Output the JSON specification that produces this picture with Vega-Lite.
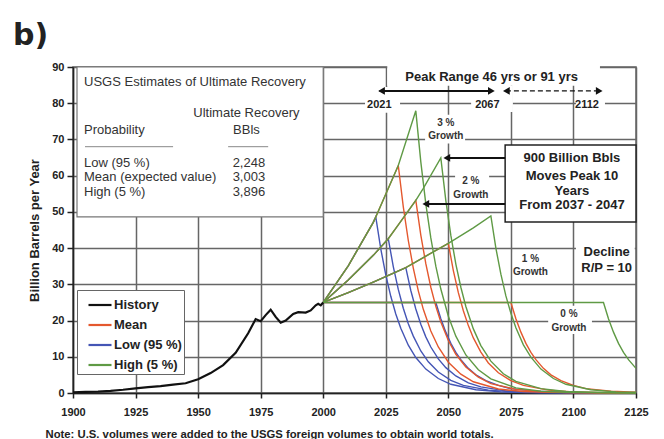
{
  "$schema": "https://vega.github.io/schema/vega-lite/v6.json",
  "width": 563,
  "height": 326,
  "autosize": "none",
  "padding": {"left": 73, "top": 67, "right": 28, "bottom": 46},
  "background": "white",
  "title": {"text": "b)", "anchor": "start", "frame": "group", "dx": -60, "dy": 39, "offset": 25, "fontSize": 30, "font": "DejaVu Sans", "fontWeight": "bold", "color": "#222222", "baseline": "alphabetic"},
  "config": {
    "view": {"stroke": "#666666", "strokeWidth": 1.5},
    "axis": {"gridColor": "#666666", "gridWidth": 1.5, "gridOpacity": 1, "labelFont": "Liberation Sans", "labelFontSize": 11, "labelFontWeight": "bold", "labelColor": "#222222", "titleFont": "Liberation Sans", "titleFontWeight": "bold", "titleColor": "#222222", "domainColor": "#222222", "tickColor": "#222222", "domainWidth": 1.5, "tickWidth": 1.5}
  },
  "datasets": {
    "lines": [
      {"grp": "History", "s": "Hist", "year": 1900, "v": 0.2},
      {"grp": "History", "s": "Hist", "year": 1905, "v": 0.3},
      {"grp": "History", "s": "Hist", "year": 1910, "v": 0.4},
      {"grp": "History", "s": "Hist", "year": 1915, "v": 0.6},
      {"grp": "History", "s": "Hist", "year": 1920, "v": 0.9},
      {"grp": "History", "s": "Hist", "year": 1925, "v": 1.3},
      {"grp": "History", "s": "Hist", "year": 1930, "v": 1.6},
      {"grp": "History", "s": "Hist", "year": 1935, "v": 1.9},
      {"grp": "History", "s": "Hist", "year": 1940, "v": 2.3},
      {"grp": "History", "s": "Hist", "year": 1945, "v": 2.7},
      {"grp": "History", "s": "Hist", "year": 1950, "v": 3.8},
      {"grp": "History", "s": "Hist", "year": 1955, "v": 5.5},
      {"grp": "History", "s": "Hist", "year": 1960, "v": 7.7},
      {"grp": "History", "s": "Hist", "year": 1965, "v": 11.1},
      {"grp": "History", "s": "Hist", "year": 1970, "v": 16.5},
      {"grp": "History", "s": "Hist", "year": 1973, "v": 20.4},
      {"grp": "History", "s": "Hist", "year": 1975, "v": 19.8},
      {"grp": "History", "s": "Hist", "year": 1977, "v": 21.5},
      {"grp": "History", "s": "Hist", "year": 1979, "v": 23.0},
      {"grp": "History", "s": "Hist", "year": 1981, "v": 21.0},
      {"grp": "History", "s": "Hist", "year": 1983, "v": 19.4},
      {"grp": "History", "s": "Hist", "year": 1985, "v": 20.0},
      {"grp": "History", "s": "Hist", "year": 1988, "v": 21.8},
      {"grp": "History", "s": "Hist", "year": 1990, "v": 22.3},
      {"grp": "History", "s": "Hist", "year": 1993, "v": 22.2},
      {"grp": "History", "s": "Hist", "year": 1995, "v": 22.8},
      {"grp": "History", "s": "Hist", "year": 1997, "v": 24.2},
      {"grp": "History", "s": "Hist", "year": 1998, "v": 24.6},
      {"grp": "History", "s": "Hist", "year": 1999, "v": 24.2},
      {"grp": "History", "s": "Hist", "year": 2000, "v": 25.0},

      {"grp": "Low (95 %)", "s": "L3", "year": 2000, "v": 25},
      {"grp": "Low (95 %)", "s": "L3", "year": 2010, "v": 35.1},
      {"grp": "Low (95 %)", "s": "L3", "year": 2020, "v": 47.1},
      {"grp": "Low (95 %)", "s": "L3", "year": 2021, "v": 48.6},
      {"grp": "Low (95 %)", "s": "L3", "year": 2023, "v": 39.8},
      {"grp": "Low (95 %)", "s": "L3", "year": 2025, "v": 32.6},
      {"grp": "Low (95 %)", "s": "L3", "year": 2027, "v": 26.7},
      {"grp": "Low (95 %)", "s": "L3", "year": 2029, "v": 21.8},
      {"grp": "Low (95 %)", "s": "L3", "year": 2031, "v": 17.9},
      {"grp": "Low (95 %)", "s": "L3", "year": 2034, "v": 13.2},
      {"grp": "Low (95 %)", "s": "L3", "year": 2037, "v": 9.8},
      {"grp": "Low (95 %)", "s": "L3", "year": 2041, "v": 6.6},
      {"grp": "Low (95 %)", "s": "L3", "year": 2046, "v": 4.0},
      {"grp": "Low (95 %)", "s": "L3", "year": 2051, "v": 2.4},
      {"grp": "Low (95 %)", "s": "L3", "year": 2061, "v": 0.9},
      {"grp": "Low (95 %)", "s": "L3", "year": 2071, "v": 0.3},
      {"grp": "Low (95 %)", "s": "L3", "year": 2081, "v": 0.1},
      {"grp": "Low (95 %)", "s": "L3", "year": 2125, "v": 0.0},

      {"grp": "Low (95 %)", "s": "L2", "year": 2000, "v": 25},
      {"grp": "Low (95 %)", "s": "L2", "year": 2010, "v": 31.2},
      {"grp": "Low (95 %)", "s": "L2", "year": 2020, "v": 38.0},
      {"grp": "Low (95 %)", "s": "L2", "year": 2026, "v": 42.6},
      {"grp": "Low (95 %)", "s": "L2", "year": 2028, "v": 34.9},
      {"grp": "Low (95 %)", "s": "L2", "year": 2030, "v": 28.6},
      {"grp": "Low (95 %)", "s": "L2", "year": 2032, "v": 23.4},
      {"grp": "Low (95 %)", "s": "L2", "year": 2034, "v": 19.1},
      {"grp": "Low (95 %)", "s": "L2", "year": 2036, "v": 15.7},
      {"grp": "Low (95 %)", "s": "L2", "year": 2039, "v": 11.6},
      {"grp": "Low (95 %)", "s": "L2", "year": 2042, "v": 8.6},
      {"grp": "Low (95 %)", "s": "L2", "year": 2046, "v": 5.8},
      {"grp": "Low (95 %)", "s": "L2", "year": 2051, "v": 3.5},
      {"grp": "Low (95 %)", "s": "L2", "year": 2056, "v": 2.1},
      {"grp": "Low (95 %)", "s": "L2", "year": 2066, "v": 0.8},
      {"grp": "Low (95 %)", "s": "L2", "year": 2076, "v": 0.3},
      {"grp": "Low (95 %)", "s": "L2", "year": 2086, "v": 0.1},
      {"grp": "Low (95 %)", "s": "L2", "year": 2125, "v": 0.0},

      {"grp": "Low (95 %)", "s": "L1", "year": 2000, "v": 25},
      {"grp": "Low (95 %)", "s": "L1", "year": 2010, "v": 27.7},
      {"grp": "Low (95 %)", "s": "L1", "year": 2020, "v": 30.6},
      {"grp": "Low (95 %)", "s": "L1", "year": 2033, "v": 34.6},
      {"grp": "Low (95 %)", "s": "L1", "year": 2035, "v": 28.3},
      {"grp": "Low (95 %)", "s": "L1", "year": 2037, "v": 23.2},
      {"grp": "Low (95 %)", "s": "L1", "year": 2039, "v": 19.0},
      {"grp": "Low (95 %)", "s": "L1", "year": 2041, "v": 15.5},
      {"grp": "Low (95 %)", "s": "L1", "year": 2043, "v": 12.7},
      {"grp": "Low (95 %)", "s": "L1", "year": 2046, "v": 9.4},
      {"grp": "Low (95 %)", "s": "L1", "year": 2049, "v": 7.0},
      {"grp": "Low (95 %)", "s": "L1", "year": 2053, "v": 4.7},
      {"grp": "Low (95 %)", "s": "L1", "year": 2058, "v": 2.8},
      {"grp": "Low (95 %)", "s": "L1", "year": 2063, "v": 1.7},
      {"grp": "Low (95 %)", "s": "L1", "year": 2073, "v": 0.6},
      {"grp": "Low (95 %)", "s": "L1", "year": 2083, "v": 0.2},
      {"grp": "Low (95 %)", "s": "L1", "year": 2093, "v": 0.1},
      {"grp": "Low (95 %)", "s": "L1", "year": 2125, "v": 0.0},

      {"grp": "Low (95 %)", "s": "L0", "year": 2000, "v": 25},
      {"grp": "Low (95 %)", "s": "L0", "year": 2045, "v": 25},
      {"grp": "Low (95 %)", "s": "L0", "year": 2047, "v": 20.5},
      {"grp": "Low (95 %)", "s": "L0", "year": 2049, "v": 16.8},
      {"grp": "Low (95 %)", "s": "L0", "year": 2051, "v": 13.7},
      {"grp": "Low (95 %)", "s": "L0", "year": 2053, "v": 11.2},
      {"grp": "Low (95 %)", "s": "L0", "year": 2055, "v": 9.2},
      {"grp": "Low (95 %)", "s": "L0", "year": 2058, "v": 6.8},
      {"grp": "Low (95 %)", "s": "L0", "year": 2061, "v": 5.0},
      {"grp": "Low (95 %)", "s": "L0", "year": 2065, "v": 3.4},
      {"grp": "Low (95 %)", "s": "L0", "year": 2070, "v": 2.1},
      {"grp": "Low (95 %)", "s": "L0", "year": 2075, "v": 1.2},
      {"grp": "Low (95 %)", "s": "L0", "year": 2085, "v": 0.5},
      {"grp": "Low (95 %)", "s": "L0", "year": 2095, "v": 0.2},
      {"grp": "Low (95 %)", "s": "L0", "year": 2105, "v": 0.1},
      {"grp": "Low (95 %)", "s": "L0", "year": 2125, "v": 0.0},

      {"grp": "Mean", "s": "M3", "year": 2000, "v": 25},
      {"grp": "Mean", "s": "M3", "year": 2010, "v": 35.1},
      {"grp": "Mean", "s": "M3", "year": 2020, "v": 47.1},
      {"grp": "Mean", "s": "M3", "year": 2021, "v": 48.6},
      {"grp": "Mean", "s": "M3", "year": 2030, "v": 62.8},
      {"grp": "Mean", "s": "M3", "year": 2032, "v": 51.4},
      {"grp": "Mean", "s": "M3", "year": 2034, "v": 42.1},
      {"grp": "Mean", "s": "M3", "year": 2036, "v": 34.5},
      {"grp": "Mean", "s": "M3", "year": 2038, "v": 28.2},
      {"grp": "Mean", "s": "M3", "year": 2040, "v": 23.1},
      {"grp": "Mean", "s": "M3", "year": 2043, "v": 17.1},
      {"grp": "Mean", "s": "M3", "year": 2046, "v": 12.7},
      {"grp": "Mean", "s": "M3", "year": 2050, "v": 8.5},
      {"grp": "Mean", "s": "M3", "year": 2055, "v": 5.2},
      {"grp": "Mean", "s": "M3", "year": 2060, "v": 3.1},
      {"grp": "Mean", "s": "M3", "year": 2070, "v": 1.1},
      {"grp": "Mean", "s": "M3", "year": 2080, "v": 0.4},
      {"grp": "Mean", "s": "M3", "year": 2090, "v": 0.2},
      {"grp": "Mean", "s": "M3", "year": 2125, "v": 0.0},

      {"grp": "Mean", "s": "M2", "year": 2000, "v": 25},
      {"grp": "Mean", "s": "M2", "year": 2010, "v": 31.2},
      {"grp": "Mean", "s": "M2", "year": 2020, "v": 38.0},
      {"grp": "Mean", "s": "M2", "year": 2026, "v": 42.6},
      {"grp": "Mean", "s": "M2", "year": 2030, "v": 46.4},
      {"grp": "Mean", "s": "M2", "year": 2037, "v": 53.2},
      {"grp": "Mean", "s": "M2", "year": 2039, "v": 43.6},
      {"grp": "Mean", "s": "M2", "year": 2041, "v": 35.7},
      {"grp": "Mean", "s": "M2", "year": 2043, "v": 29.2},
      {"grp": "Mean", "s": "M2", "year": 2045, "v": 23.9},
      {"grp": "Mean", "s": "M2", "year": 2047, "v": 19.6},
      {"grp": "Mean", "s": "M2", "year": 2050, "v": 14.5},
      {"grp": "Mean", "s": "M2", "year": 2053, "v": 10.7},
      {"grp": "Mean", "s": "M2", "year": 2057, "v": 7.2},
      {"grp": "Mean", "s": "M2", "year": 2062, "v": 4.4},
      {"grp": "Mean", "s": "M2", "year": 2067, "v": 2.6},
      {"grp": "Mean", "s": "M2", "year": 2077, "v": 1.0},
      {"grp": "Mean", "s": "M2", "year": 2087, "v": 0.4},
      {"grp": "Mean", "s": "M2", "year": 2097, "v": 0.1},
      {"grp": "Mean", "s": "M2", "year": 2125, "v": 0.0},

      {"grp": "Mean", "s": "M1", "year": 2000, "v": 25},
      {"grp": "Mean", "s": "M1", "year": 2010, "v": 27.7},
      {"grp": "Mean", "s": "M1", "year": 2020, "v": 30.6},
      {"grp": "Mean", "s": "M1", "year": 2033, "v": 34.6},
      {"grp": "Mean", "s": "M1", "year": 2040, "v": 37.4},
      {"grp": "Mean", "s": "M1", "year": 2050, "v": 41.3},
      {"grp": "Mean", "s": "M1", "year": 2052, "v": 33.8},
      {"grp": "Mean", "s": "M1", "year": 2054, "v": 27.7},
      {"grp": "Mean", "s": "M1", "year": 2056, "v": 22.7},
      {"grp": "Mean", "s": "M1", "year": 2058, "v": 18.6},
      {"grp": "Mean", "s": "M1", "year": 2060, "v": 15.2},
      {"grp": "Mean", "s": "M1", "year": 2063, "v": 11.3},
      {"grp": "Mean", "s": "M1", "year": 2066, "v": 8.3},
      {"grp": "Mean", "s": "M1", "year": 2070, "v": 5.6},
      {"grp": "Mean", "s": "M1", "year": 2075, "v": 3.4},
      {"grp": "Mean", "s": "M1", "year": 2080, "v": 2.1},
      {"grp": "Mean", "s": "M1", "year": 2090, "v": 0.8},
      {"grp": "Mean", "s": "M1", "year": 2100, "v": 0.3},
      {"grp": "Mean", "s": "M1", "year": 2110, "v": 0.1},
      {"grp": "Mean", "s": "M1", "year": 2125, "v": 0.0},

      {"grp": "Mean", "s": "M0", "year": 2000, "v": 25},
      {"grp": "Mean", "s": "M0", "year": 2075, "v": 25},
      {"grp": "Mean", "s": "M0", "year": 2077, "v": 20.5},
      {"grp": "Mean", "s": "M0", "year": 2079, "v": 16.8},
      {"grp": "Mean", "s": "M0", "year": 2081, "v": 13.7},
      {"grp": "Mean", "s": "M0", "year": 2083, "v": 11.2},
      {"grp": "Mean", "s": "M0", "year": 2085, "v": 9.2},
      {"grp": "Mean", "s": "M0", "year": 2088, "v": 6.8},
      {"grp": "Mean", "s": "M0", "year": 2091, "v": 5.0},
      {"grp": "Mean", "s": "M0", "year": 2095, "v": 3.4},
      {"grp": "Mean", "s": "M0", "year": 2100, "v": 2.1},
      {"grp": "Mean", "s": "M0", "year": 2105, "v": 1.2},
      {"grp": "Mean", "s": "M0", "year": 2115, "v": 0.5},
      {"grp": "Mean", "s": "M0", "year": 2125, "v": 0.2},

      {"grp": "High (5 %)", "s": "H3", "year": 2000, "v": 25},
      {"grp": "High (5 %)", "s": "H3", "year": 2010, "v": 35.1},
      {"grp": "High (5 %)", "s": "H3", "year": 2020, "v": 47.1},
      {"grp": "High (5 %)", "s": "H3", "year": 2021, "v": 48.6},
      {"grp": "High (5 %)", "s": "H3", "year": 2030, "v": 62.8},
      {"grp": "High (5 %)", "s": "H3", "year": 2037, "v": 77.9},
      {"grp": "High (5 %)", "s": "H3", "year": 2039, "v": 63.8},
      {"grp": "High (5 %)", "s": "H3", "year": 2041, "v": 52.2},
      {"grp": "High (5 %)", "s": "H3", "year": 2043, "v": 42.8},
      {"grp": "High (5 %)", "s": "H3", "year": 2045, "v": 35.0},
      {"grp": "High (5 %)", "s": "H3", "year": 2047, "v": 28.7},
      {"grp": "High (5 %)", "s": "H3", "year": 2050, "v": 21.2},
      {"grp": "High (5 %)", "s": "H3", "year": 2053, "v": 15.7},
      {"grp": "High (5 %)", "s": "H3", "year": 2057, "v": 10.5},
      {"grp": "High (5 %)", "s": "H3", "year": 2062, "v": 6.4},
      {"grp": "High (5 %)", "s": "H3", "year": 2067, "v": 3.9},
      {"grp": "High (5 %)", "s": "H3", "year": 2077, "v": 1.4},
      {"grp": "High (5 %)", "s": "H3", "year": 2087, "v": 0.5},
      {"grp": "High (5 %)", "s": "H3", "year": 2097, "v": 0.2},
      {"grp": "High (5 %)", "s": "H3", "year": 2125, "v": 0.0},

      {"grp": "High (5 %)", "s": "H2", "year": 2000, "v": 25},
      {"grp": "High (5 %)", "s": "H2", "year": 2010, "v": 31.2},
      {"grp": "High (5 %)", "s": "H2", "year": 2020, "v": 38.0},
      {"grp": "High (5 %)", "s": "H2", "year": 2026, "v": 42.6},
      {"grp": "High (5 %)", "s": "H2", "year": 2030, "v": 46.4},
      {"grp": "High (5 %)", "s": "H2", "year": 2037, "v": 53.2},
      {"grp": "High (5 %)", "s": "H2", "year": 2040, "v": 56.5},
      {"grp": "High (5 %)", "s": "H2", "year": 2047, "v": 64.9},
      {"grp": "High (5 %)", "s": "H2", "year": 2049, "v": 53.1},
      {"grp": "High (5 %)", "s": "H2", "year": 2051, "v": 43.5},
      {"grp": "High (5 %)", "s": "H2", "year": 2053, "v": 35.6},
      {"grp": "High (5 %)", "s": "H2", "year": 2055, "v": 29.2},
      {"grp": "High (5 %)", "s": "H2", "year": 2057, "v": 23.9},
      {"grp": "High (5 %)", "s": "H2", "year": 2060, "v": 17.7},
      {"grp": "High (5 %)", "s": "H2", "year": 2063, "v": 13.1},
      {"grp": "High (5 %)", "s": "H2", "year": 2067, "v": 8.8},
      {"grp": "High (5 %)", "s": "H2", "year": 2072, "v": 5.3},
      {"grp": "High (5 %)", "s": "H2", "year": 2077, "v": 3.2},
      {"grp": "High (5 %)", "s": "H2", "year": 2087, "v": 1.2},
      {"grp": "High (5 %)", "s": "H2", "year": 2097, "v": 0.4},
      {"grp": "High (5 %)", "s": "H2", "year": 2107, "v": 0.2},
      {"grp": "High (5 %)", "s": "H2", "year": 2125, "v": 0.0},

      {"grp": "High (5 %)", "s": "H1", "year": 2000, "v": 25},
      {"grp": "High (5 %)", "s": "H1", "year": 2010, "v": 27.7},
      {"grp": "High (5 %)", "s": "H1", "year": 2020, "v": 30.6},
      {"grp": "High (5 %)", "s": "H1", "year": 2033, "v": 34.6},
      {"grp": "High (5 %)", "s": "H1", "year": 2040, "v": 37.4},
      {"grp": "High (5 %)", "s": "H1", "year": 2050, "v": 41.3},
      {"grp": "High (5 %)", "s": "H1", "year": 2060, "v": 45.6},
      {"grp": "High (5 %)", "s": "H1", "year": 2067, "v": 48.9},
      {"grp": "High (5 %)", "s": "H1", "year": 2069, "v": 40.0},
      {"grp": "High (5 %)", "s": "H1", "year": 2071, "v": 32.8},
      {"grp": "High (5 %)", "s": "H1", "year": 2073, "v": 26.8},
      {"grp": "High (5 %)", "s": "H1", "year": 2075, "v": 22.0},
      {"grp": "High (5 %)", "s": "H1", "year": 2077, "v": 18.0},
      {"grp": "High (5 %)", "s": "H1", "year": 2080, "v": 13.3},
      {"grp": "High (5 %)", "s": "H1", "year": 2083, "v": 9.9},
      {"grp": "High (5 %)", "s": "H1", "year": 2087, "v": 6.6},
      {"grp": "High (5 %)", "s": "H1", "year": 2092, "v": 4.0},
      {"grp": "High (5 %)", "s": "H1", "year": 2097, "v": 2.4},
      {"grp": "High (5 %)", "s": "H1", "year": 2107, "v": 0.9},
      {"grp": "High (5 %)", "s": "H1", "year": 2117, "v": 0.3},
      {"grp": "High (5 %)", "s": "H1", "year": 2125, "v": 0.2},

      {"grp": "High (5 %)", "s": "H0", "year": 2000, "v": 25},
      {"grp": "High (5 %)", "s": "H0", "year": 2112, "v": 25},
      {"grp": "High (5 %)", "s": "H0", "year": 2114, "v": 20.5},
      {"grp": "High (5 %)", "s": "H0", "year": 2116, "v": 16.8},
      {"grp": "High (5 %)", "s": "H0", "year": 2118, "v": 13.7},
      {"grp": "High (5 %)", "s": "H0", "year": 2120, "v": 11.2},
      {"grp": "High (5 %)", "s": "H0", "year": 2122, "v": 9.2},
      {"grp": "High (5 %)", "s": "H0", "year": 2125, "v": 6.8}
    ],
    "boxes": [
      {"name": "info", "year": 1901.6, "year2": 2000, "v": 90, "v2": 48.6},
      {"name": "shift", "year": 2072.7, "year2": 2125, "v": 68.5, "v2": 47.2}
    ],
    "bgs": [
      {"year": 2025.6, "year2": 2110.6, "v": 90.6, "v2": 84.8},
      {"year": 2016.7, "year2": 2030.7, "v": 84.5, "v2": 77.4},
      {"year": 2059.1, "year2": 2075.8, "v": 84.8, "v2": 77.6},
      {"year": 2101, "year2": 2112.6, "v": 81.4, "v2": 78.1},
      {"year": 2040.7, "year2": 2056.7, "v": 76.8, "v2": 68.9},
      {"year": 2052.7, "year2": 2066.3, "v": 61.4, "v2": 52.9},
      {"year": 2075.8, "year2": 2091.8, "v": 38.8, "v2": 31.0},
      {"year": 2089.9, "year2": 2107.4, "v": 24.1, "v2": 16.3},
      {"year": 2101, "year2": 2124.5, "v": 41.3, "v2": 31.2}
    ],
    "texts": [
      {"g": "info", "t": "USGS Estimates of Ultimate Recovery", "year": 1904.4, "v": 85.9},
      {"g": "info", "t": "Probability", "year": 1904.4, "v": 72.6},
      {"g": "info", "t": "Low (95 %)", "year": 1904.4, "v": 63.5},
      {"g": "info", "t": "Mean (expected value)", "year": 1904.4, "v": 59.6},
      {"g": "info", "t": "High (5 %)", "year": 1904.4, "v": 55.5},
      {"g": "infoc", "t": "Ultimate Recovery", "year": 1969.3, "v": 77.3},
      {"g": "infoc", "t": "BBls", "year": 1969.3, "v": 72.6},
      {"g": "infoc", "t": "2,248", "year": 1970.3, "v": 63.5},
      {"g": "infoc", "t": "3,003", "year": 1970.3, "v": 59.6},
      {"g": "infoc", "t": "3,896", "year": 1970.3, "v": 55.5},
      {"g": "big", "t": "Peak Range 46 yrs or 91 yrs", "year": 2067.3, "v": 87.3},
      {"g": "yr", "t": "2021", "year": 2022.4, "v": 79.6},
      {"g": "yr", "t": "2067", "year": 2065.6, "v": 79.6},
      {"g": "yr", "t": "2112", "year": 2105.4, "v": 79.6},
      {"g": "growth", "t": "3 %", "year": 2049, "v": 74.5},
      {"g": "growth", "t": "Growth", "year": 2049, "v": 70.9},
      {"g": "growth", "t": "2 %", "year": 2059, "v": 58.6},
      {"g": "growth", "t": "Growth", "year": 2059, "v": 54.8},
      {"g": "growth", "t": "1 %", "year": 2082.8, "v": 36.9},
      {"g": "growth", "t": "Growth", "year": 2082.8, "v": 33.3},
      {"g": "growth", "t": "0 %", "year": 2098.2, "v": 21.7},
      {"g": "growth", "t": "Growth", "year": 2098.2, "v": 18.0},
      {"g": "big", "t": "900 Billion Bbls", "year": 2099.4, "v": 64.9},
      {"g": "big", "t": "Moves Peak 10", "year": 2099.4, "v": 59.9},
      {"g": "big", "t": "Years", "year": 2099.4, "v": 55.8},
      {"g": "big", "t": "From 2037 - 2047", "year": 2099.4, "v": 51.9},
      {"g": "big", "t": "Decline", "year": 2113.3, "v": 39.0},
      {"g": "big", "t": "R/P = 10", "year": 2113.3, "v": 34.6}
    ],
    "rules": [
      {"k": "under", "year": 1904.8, "year2": 1940, "v": 68.0},
      {"k": "under", "year": 1962, "year2": 1978, "v": 68.0},
      {"k": "arrow", "year": 2022.5, "year2": 2067.5, "v": 83.4},
      {"k": "arrow", "year": 2049, "year2": 2072.7, "v": 64.9},
      {"k": "arrow", "year": 2041, "year2": 2072.7, "v": 52.2},
      {"k": "dash", "year": 2073, "year2": 2110, "v": 83.4}
    ],
    "heads": [
      {"d": "left", "year": 2023.3, "v": 83.4},
      {"d": "left", "year": 2049.4, "v": 64.9},
      {"d": "left", "year": 2041.0, "v": 52.2},
      {"d": "left", "year": 2073.2, "v": 83.4},
      {"d": "right", "year": 2067.2, "v": 83.4},
      {"d": "right", "year": 2110.3, "v": 83.4}
    ]
  },
  "encoding": {
    "x": {"field": "year", "type": "quantitative", "scale": {"domain": [1900, 2125], "nice": false, "zero": false},
      "axis": {"values": [1900, 1925, 1950, 1975, 2000, 2025, 2050, 2075, 2100, 2125], "format": "d", "labelFlush": false, "tickSize": 5, "labelPadding": 8,
        "title": "Note: U.S. volumes were added to the USGS foreign volumes to obtain world totals.", "titleX": -28, "titleY": 44, "titleAlign": "left", "titleAnchor": "start", "titleBaseline": "alphabetic", "titleFontSize": 11.3}},
    "y": {"field": "v", "type": "quantitative", "scale": {"domain": [0, 90], "nice": false, "zero": true},
      "axis": {"values": [0, 10, 20, 30, 40, 50, 60, 70, 80, 90], "tickSize": 6, "labelPadding": 3, "title": "Billion Barrels per Year", "titleFontSize": 13, "titlePadding": 10}}
  },
  "layer": [
    {"data": {"name": "boxes"}, "transform": [{"filter": "datum.name === 'info'"}],
      "mark": {"type": "rect", "fill": "white", "stroke": "#777777", "strokeWidth": 1.2},
      "encoding": {"x2": {"field": "year2"}, "y2": {"field": "v2"}}},
    {"data": {"name": "lines"}, "transform": [{"filter": "datum.grp === 'Low (95 %)'"}],
      "mark": {"type": "line", "strokeWidth": 1.4},
      "encoding": {"detail": {"field": "s"}, "order": {"field": "year", "type": "quantitative"},
        "color": {"field": "grp", "type": "nominal", "scale": {"domain": ["History", "Mean", "Low (95 %)", "High (5 %)"], "range": ["#111111", "#e4582e", "#4455b5", "#5f9a45"]},
          "legend": {"orient": "none", "legendX": 4, "legendY": 223, "title": null, "symbolType": "stroke", "symbolSize": 529, "symbolStrokeWidth": 2.2, "symbolOffset": 8, "labelFont": "Liberation Sans", "labelFontSize": 13, "labelFontWeight": "bold", "labelColor": "#222222", "strokeColor": "#666666", "fillColor": "#ffffff", "padding": 2, "rowPadding": -5.5, "labelOffset": 1}}}},
    {"data": {"name": "lines"}, "transform": [{"filter": "datum.grp === 'Mean'"}],
      "mark": {"type": "line", "strokeWidth": 1.4},
      "encoding": {"detail": {"field": "s"}, "order": {"field": "year", "type": "quantitative"},
        "color": {"field": "grp", "type": "nominal", "scale": {"domain": ["History", "Mean", "Low (95 %)", "High (5 %)"], "range": ["#111111", "#e4582e", "#4455b5", "#5f9a45"]},
          "legend": {"orient": "none", "legendX": 4, "legendY": 223, "title": null, "symbolType": "stroke", "symbolSize": 529, "symbolStrokeWidth": 2.2, "symbolOffset": 8, "labelFont": "Liberation Sans", "labelFontSize": 13, "labelFontWeight": "bold", "labelColor": "#222222", "strokeColor": "#666666", "fillColor": "#ffffff", "padding": 2, "rowPadding": -5.5, "labelOffset": 1}}}},
    {"data": {"name": "lines"}, "transform": [{"filter": "datum.grp === 'High (5 %)'"}],
      "mark": {"type": "line", "strokeWidth": 1.4},
      "encoding": {"detail": {"field": "s"}, "order": {"field": "year", "type": "quantitative"},
        "color": {"field": "grp", "type": "nominal", "scale": {"domain": ["History", "Mean", "Low (95 %)", "High (5 %)"], "range": ["#111111", "#e4582e", "#4455b5", "#5f9a45"]},
          "legend": {"orient": "none", "legendX": 4, "legendY": 223, "title": null, "symbolType": "stroke", "symbolSize": 529, "symbolStrokeWidth": 2.2, "symbolOffset": 8, "labelFont": "Liberation Sans", "labelFontSize": 13, "labelFontWeight": "bold", "labelColor": "#222222", "strokeColor": "#666666", "fillColor": "#ffffff", "padding": 2, "rowPadding": -5.5, "labelOffset": 1}}}},
    {"data": {"name": "lines"}, "transform": [{"filter": "datum.grp === 'History'"}],
      "mark": {"type": "line", "strokeWidth": 2.2},
      "encoding": {"detail": {"field": "s"}, "order": {"field": "year", "type": "quantitative"},
        "color": {"field": "grp", "type": "nominal", "scale": {"domain": ["History", "Mean", "Low (95 %)", "High (5 %)"], "range": ["#111111", "#e4582e", "#4455b5", "#5f9a45"]},
          "legend": {"orient": "none", "legendX": 4, "legendY": 223, "title": null, "symbolType": "stroke", "symbolSize": 529, "symbolStrokeWidth": 2.2, "symbolOffset": 8, "labelFont": "Liberation Sans", "labelFontSize": 13, "labelFontWeight": "bold", "labelColor": "#222222", "strokeColor": "#666666", "fillColor": "#ffffff", "padding": 2, "rowPadding": -5.5, "labelOffset": 1}}}},
    {"data": {"name": "bgs"}, "mark": {"type": "rect", "fill": "white", "strokeWidth": 0},
      "encoding": {"x2": {"field": "year2"}, "y2": {"field": "v2"}}},
    {"data": {"name": "boxes"}, "transform": [{"filter": "datum.name === 'shift'"}],
      "mark": {"type": "rect", "fill": "white", "stroke": "#222222", "strokeWidth": 1.5},
      "encoding": {"x2": {"field": "year2"}, "y2": {"field": "v2"}}},
    {"data": {"name": "rules"}, "transform": [{"filter": "datum.k === 'under'"}],
      "mark": {"type": "rule", "color": "#888888", "strokeWidth": 1},
      "encoding": {"x2": {"field": "year2"}}},
    {"data": {"name": "rules"}, "transform": [{"filter": "datum.k === 'arrow'"}],
      "mark": {"type": "rule", "color": "#111111", "strokeWidth": 2},
      "encoding": {"x2": {"field": "year2"}}},
    {"data": {"name": "rules"}, "transform": [{"filter": "datum.k === 'dash'"}],
      "mark": {"type": "rule", "color": "#111111", "strokeWidth": 1.3, "strokeDash": [5, 3]},
      "encoding": {"x2": {"field": "year2"}}},
    {"data": {"name": "heads"}, "transform": [{"filter": "datum.d === 'left'"}],
      "mark": {"type": "point", "shape": "triangle-left", "filled": true, "color": "#111111", "size": 60, "opacity": 1},
      "encoding": {}},
    {"data": {"name": "heads"}, "transform": [{"filter": "datum.d === 'right'"}],
      "mark": {"type": "point", "shape": "triangle-right", "filled": true, "color": "#111111", "size": 60, "opacity": 1},
      "encoding": {}},
    {"data": {"name": "texts"}, "transform": [{"filter": "datum.g === 'info'"}],
      "mark": {"type": "text", "align": "left", "baseline": "middle", "font": "Liberation Sans", "fontSize": 13, "color": "#333333"},
      "encoding": {"text": {"field": "t"}}},
    {"data": {"name": "texts"}, "transform": [{"filter": "datum.g === 'infoc'"}],
      "mark": {"type": "text", "align": "center", "baseline": "middle", "font": "Liberation Sans", "fontSize": 13, "color": "#333333"},
      "encoding": {"text": {"field": "t"}}},
    {"data": {"name": "texts"}, "transform": [{"filter": "datum.g === 'big'"}],
      "mark": {"type": "text", "align": "center", "baseline": "middle", "font": "Liberation Sans", "fontSize": 13, "fontWeight": "bold", "color": "#222222"},
      "encoding": {"text": {"field": "t"}}},
    {"data": {"name": "texts"}, "transform": [{"filter": "datum.g === 'yr'"}],
      "mark": {"type": "text", "align": "center", "baseline": "middle", "font": "Liberation Sans", "fontSize": 11, "fontWeight": "bold", "color": "#222222"},
      "encoding": {"text": {"field": "t"}}},
    {"data": {"name": "texts"}, "transform": [{"filter": "datum.g === 'growth'"}],
      "mark": {"type": "text", "align": "center", "baseline": "middle", "font": "Liberation Sans", "fontSize": 10, "fontWeight": "bold", "color": "#333333"},
      "encoding": {"text": {"field": "t"}}}
  ]
}
